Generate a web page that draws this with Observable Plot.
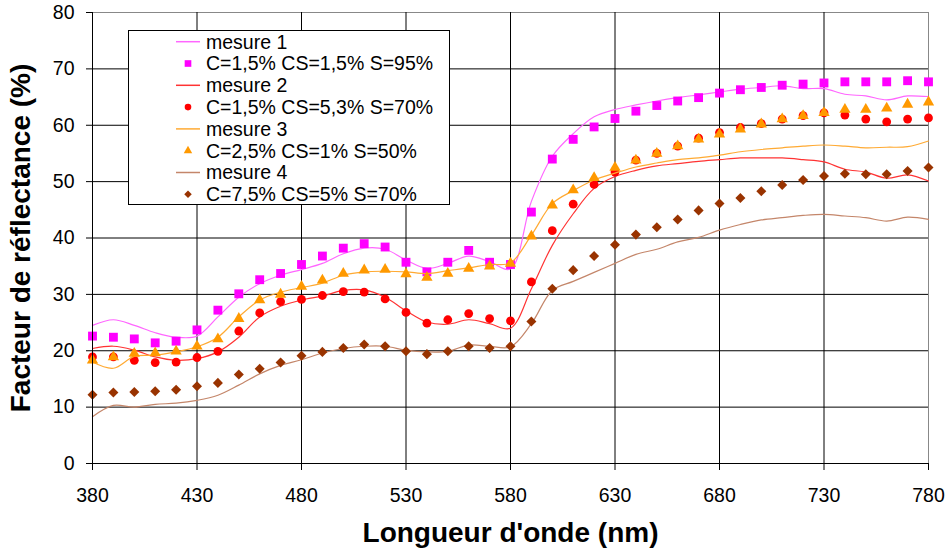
<!DOCTYPE html>
<html>
<head>
<meta charset="utf-8">
<script src="https://cdn.jsdelivr.net/npm/d3@7"></script>
<script src="https://cdn.jsdelivr.net/npm/@observablehq/plot@0.6"></script>
<style>
  html, body { margin: 0; padding: 0; background: #fff; }
  #wrap { position: relative; width: 945px; height: 560px; }
  #legend { position: absolute; left: 128px; top: 30px; }
</style>
</head>
<body>
<div id="wrap"></div>
<script>
const wavelengths = [380,390,400,410,420,430,440,450,460,470,480,490,500,510,520,530,540,550,560,570,580,590,600,610,620,630,640,650,660,670,680,690,700,710,720,730,740,750,760,770,780];

// measured curves (lines)
const mesure1 = [24.5,25.5,24.5,23.2,22.4,22.6,26.0,29.5,31.9,33.4,34.4,35.5,37.2,38.2,38.0,36.1,34.6,35.5,36.8,35.8,34.5,46.5,54.5,58.5,61.5,62.8,63.6,64.3,64.9,65.4,65.9,66.4,66.7,67.0,66.5,66.5,65.5,65.2,64.5,65.2,65.1];
const mesure2 = [20.4,20.8,20.1,18.9,18.3,18.6,19.8,22.4,26.0,27.9,29.0,29.7,30.7,30.8,29.5,27.1,25.1,24.7,25.5,24.8,24.0,31.0,38.7,44.3,48.8,50.9,52.0,52.8,53.2,53.6,53.9,54.2,54.2,54.2,53.9,53.5,52.2,51.7,50.6,51.2,50.1];
const mesure3 = [18.0,16.9,19.0,19.2,19.8,20.7,22.4,26.0,29.0,30.4,31.2,32.0,33.4,34.0,34.1,34.0,33.7,34.2,34.7,35.3,35.6,40.5,46.1,48.4,50.3,51.5,52.6,53.3,53.9,54.2,54.7,55.3,55.7,56.0,56.3,56.5,56.3,56.0,56.1,56.2,57.2];
const mesure4 = [8.3,10.3,10.0,10.5,10.7,11.2,12.1,13.9,15.9,17.4,18.4,19.6,20.4,20.8,20.8,20.1,19.8,19.9,21.0,20.8,20.7,24.8,30.7,32.3,33.9,35.5,37.1,38.0,39.3,40.1,41.4,42.4,43.2,43.6,44.0,44.2,43.9,43.6,43.0,43.7,43.3];

// simulated / computed series (markers)
const calc1 = [22.6,22.4,22.1,21.4,21.7,23.7,27.2,30.1,32.6,33.7,35.3,36.8,38.2,39.0,38.4,35.7,34.0,35.7,37.8,35.7,35.3,44.6,54.0,57.5,59.7,61.2,62.5,63.5,64.3,64.9,65.7,66.3,66.7,67.1,67.3,67.5,67.7,67.7,67.7,67.9,67.7];
const calc2 = [18.9,18.9,18.3,17.9,18.0,18.8,19.9,23.5,26.7,28.7,29.1,29.8,30.5,30.4,29.2,26.8,24.9,25.5,26.6,25.7,25.3,32.2,41.3,46.0,49.5,51.7,53.8,55.0,56.3,57.7,58.7,59.6,60.3,61.1,61.7,62.2,61.8,61.1,60.6,61.1,61.3];
const calc3 = [18.3,18.9,19.5,19.6,19.9,20.8,22.1,25.7,29.0,30.0,31.4,32.5,33.7,34.3,34.4,33.6,33.0,33.7,34.6,35.0,35.5,40.3,45.8,48.5,50.7,52.5,53.8,55.0,56.3,57.5,58.4,59.3,60.2,61.1,61.7,62.2,62.8,62.8,63.0,63.7,64.1];
const calc4 = [12.2,12.6,12.7,12.8,13.1,13.7,14.3,15.8,16.8,17.9,19.1,19.8,20.5,21.1,20.8,19.9,19.4,19.9,20.8,20.5,20.8,25.2,31.0,34.3,36.8,38.8,40.6,41.9,43.3,44.9,46.1,47.1,48.3,49.4,50.3,51.0,51.4,51.3,51.3,51.9,52.5];

const lineNames = ["mesure 1","mesure 2","mesure 3","mesure 4"];
const markerNames = ["C=1,5% CS=1,5% S=95%","C=1,5% CS=5,3% S=70%","C=2,5% CS=1% S=50%","C=7,5% CS=5% S=70%"];
const xTicks = [380,430,480,530,580,630,680,730,780];
const yTicks = [0,10,20,30,40,50,60,70,80];
const xTitle = "Longueur d'onde (nm)";
const yTitle = "Facteur de réflectance (%)";

const lineColors = ["#ff66ff","#ff3333","#ffaa33","#c4866a"];
const markerColors = ["#ff00ff","#ff0000","#ff9900","#993300"];
const markerSymbols = ["square","circle","triangle","square"];
const markerR = [5.0, 4.4, 4.2, 4.0];
const markerRot = [0, 0, 0, 45];

const toRows = arr => wavelengths.map((w, i) => ({w, v: arr[i]}));
const lines = [mesure1, mesure2, mesure3, mesure4].map(toRows);
const markers = [calc1, calc2, calc3, calc4].map(toRows);

const font = "'Liberation Sans', Arial, sans-serif";
const marks = [
  Plot.ruleY(yTicks.filter(d => d !== 80), {stroke: "#000", strokeWidth: 1}),
  Plot.ruleY([80], {stroke: "#888", strokeWidth: 1}),
  Plot.ruleX(xTicks.filter(d => d !== 780), {stroke: "#000", strokeWidth: 1}),
  Plot.ruleX([780], {stroke: "#888", strokeWidth: 1}),
];
for (let k = 0; k < 4; k++) {
  marks.push(Plot.line(lines[k], {x: "w", y: "v", stroke: lineColors[k], strokeWidth: 1.2, curve: "catmull-rom"}));
  marks.push(Plot.dot(markers[k], {x: "w", y: "v", symbol: markerSymbols[k], r: markerR[k], fill: markerColors[k], stroke: "none", rotate: markerRot[k]}));
}
marks.push(
  Plot.axisY({ticks: yTicks, tickSize: 6, tickPadding: 12, fontSize: 19.5, label: null, stroke: "#000"}),
  Plot.axisX({ticks: xTicks, tickSize: 7, tickPadding: 18, fontSize: 19.5, label: null, stroke: "#000"}),
  Plot.ruleY([0], {stroke: "#000"}),
  Plot.ruleX([380], {stroke: "#000"}),
  Plot.text([xTitle], {frameAnchor: "bottom", dy: 78, fontSize: 28, fontWeight: "bold", fill: "#000"}),
  Plot.text([yTitle], {frameAnchor: "left", dx: -71, rotate: -90, textAnchor: "middle", fontSize: 28, fontWeight: "bold", fill: "#000"})
);

const chart = Plot.plot({
  width: 945,
  height: 560,
  marginLeft: 92,
  marginRight: 17,
  marginTop: 12,
  marginBottom: 97,
  x: {domain: [380, 780], ticks: xTicks},
  y: {domain: [0, 80], ticks: yTicks},
  style: {fontFamily: font, fontSize: "19px", background: "#fff", color: "#000", overflow: "visible"},
  marks
});
document.getElementById("wrap").appendChild(chart);

// legend
const lg = d3.select("#wrap").append("svg").attr("id", "legend")
  .attr("width", 322).attr("height", 176)
  .style("font-family", font).style("font-size", "19.5px");
lg.append("rect").attr("x", 0.5).attr("y", 0.5).attr("width", 321).attr("height", 174)
  .attr("fill", "#fff").attr("stroke", "#000");
const rowH = 21.8, y0 = 11.7;
const sym = {square: d3.symbolSquare, circle: d3.symbolCircle, triangle: d3.symbolTriangle};
for (let k = 0; k < 4; k++) {
  const yl = y0 + 2 * k * rowH, ym = yl + rowH;
  lg.append("line").attr("x1", 48).attr("x2", 72).attr("y1", yl).attr("y2", yl)
    .attr("stroke", lineColors[k]).attr("stroke-width", 1.5);
  lg.append("text").attr("x", 78).attr("y", yl).attr("dy", "0.35em").text(lineNames[k]);
  lg.append("path")
    .attr("d", d3.symbol(sym[markerSymbols[k]], Math.PI * Math.pow(markerR[k] * 0.75, 2))())
    .attr("transform", `translate(60,${ym}) rotate(${markerRot[k]})`)
    .attr("fill", markerColors[k]);
  lg.append("text").attr("x", 78).attr("y", ym).attr("dy", "0.35em").text(markerNames[k]);
}
</script>
</body>
</html>
